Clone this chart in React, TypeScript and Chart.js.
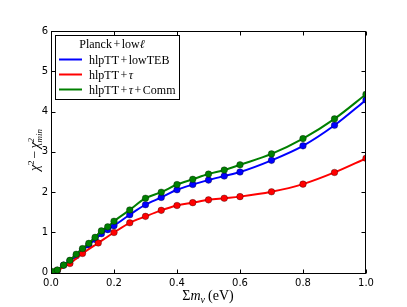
import { useEffect, useRef } from "react";
import { Chart, registerables } from "chart.js";
Chart.register(...registerables);

const massGrid = [0.005, 0.02, 0.04, 0.06, 0.08, 0.1, 0.12, 0.14, 0.16, 0.18, 0.2, 0.25, 0.3, 0.35, 0.4, 0.45, 0.5, 0.55, 0.6, 0.7, 0.8, 0.9, 1.0];
const lowTEB = [0.0, 0.05, 0.19, 0.3, 0.42, 0.56, 0.69, 0.83, 0.97, 1.07, 1.17, 1.44, 1.69, 1.87, 2.06, 2.19, 2.3, 2.4, 2.5, 2.79, 3.15, 3.66, 4.29];
const tauComm = [0.03, 0.07, 0.19, 0.31, 0.46, 0.6, 0.73, 0.88, 1.04, 1.14, 1.28, 1.56, 1.85, 2.0, 2.19, 2.32, 2.45, 2.55, 2.68, 2.95, 3.33, 3.82, 4.43];
const massTau = [0.005, 0.02, 0.06, 0.1, 0.15, 0.2, 0.25, 0.3, 0.35, 0.4, 0.45, 0.5, 0.55, 0.6, 0.7, 0.8, 0.9, 1.0];
const tauOnly = [0.0, 0.06, 0.23, 0.48, 0.74, 1.0, 1.24, 1.4, 1.55, 1.67, 1.74, 1.81, 1.85, 1.89, 2.01, 2.2, 2.49, 2.84];
const xTicks = [0, 0.2, 0.4, 0.6, 0.8, 1.0];
const yTicks = [0, 1, 2, 3, 4, 5, 6];
const seriesNames = ["hlpTT+lowTEB", "hlpTT+τ", "hlpTT+τ+Comm"];
const seriesColors = ["#0000ff", "#ff0000", "#008000"];

const SERIF = "'Liberation Serif', 'DejaVu Serif', serif";

type Run = { t?: string; f?: string; dy?: number; sup?: string; sub?: string; sf?: string; gap?: number };

function runWidth(ctx: CanvasRenderingContext2D, r: Run) {
  if (r.gap) return r.gap;
  if (r.sup !== undefined || r.sub !== undefined) {
    ctx.font = r.sf || "";
    return Math.max(ctx.measureText(r.sup || "").width, ctx.measureText(r.sub || "").width);
  }
  ctx.font = r.f || "";
  return ctx.measureText(r.t || "").width;
}

function drawRuns(ctx: CanvasRenderingContext2D, runs: Run[], x: number, y: number, align: "left" | "center") {
  let total = 0;
  for (const r of runs) total += runWidth(ctx, r);
  let cx = align === "center" ? x - total / 2 : x;
  ctx.textAlign = "left";
  ctx.textBaseline = "alphabetic";
  for (const r of runs) {
    const w = runWidth(ctx, r);
    if (r.gap) { cx += w; continue; }
    if (r.sup !== undefined || r.sub !== undefined) {
      ctx.font = r.sf || "";
      if (r.sup) ctx.fillText(r.sup, cx, y - 5);
      if (r.sub) ctx.fillText(r.sub, cx, y + 3);
    } else {
      ctx.font = r.f || "";
      ctx.fillText(r.t || "", cx, y + (r.dy || 0));
    }
    cx += w;
  }
}

const up = (s: number) => `${s}px ${SERIF}`;
const it = (s: number) => `italic ${s}px ${SERIF}`;

const legendRuns: Run[][] = [
  [{ t: "hlpTT", f: up(12) }, { gap: 1.5 }, { t: "+", f: up(12) }, { gap: 1.5 }, { t: "lowTEB", f: up(12) }],
  [{ t: "hlpTT", f: up(12) }, { gap: 1.5 }, { t: "+", f: up(12) }, { gap: 1.5 }, { t: "τ", f: it(12) }],
  [{ t: "hlpTT", f: up(12) }, { gap: 1.5 }, { t: "+", f: up(12) }, { gap: 1.5 }, { t: "τ", f: it(12) }, { gap: 1.5 }, { t: "+", f: up(12) }, { gap: 1.5 }, { t: "Comm", f: up(12) }],
];

const decor = {
  id: "decor",
  afterDraw(chart: any) {
    const { ctx, chartArea: a, scales } = chart;
    ctx.save();
    ctx.strokeStyle = "#000";
    ctx.lineWidth = 1;
    const L = Math.round(a.left) + 0.5, R = Math.round(a.right) - 0.5;
    const T = Math.round(a.top) + 0.5, B = Math.round(a.bottom) - 0.5;
    ctx.strokeRect(L, T, R - L, B - T);
    ctx.beginPath();
    for (const v of xTicks) {
      const px = Math.round(scales.x.getPixelForValue(v)) + 0.5;
      ctx.moveTo(px, B); ctx.lineTo(px, B - 4);
      ctx.moveTo(px, T); ctx.lineTo(px, T + 4);
    }
    for (const v of yTicks) {
      const py = Math.round(scales.y.getPixelForValue(v)) + 0.5;
      ctx.moveTo(L, py); ctx.lineTo(L + 4, py);
      ctx.moveTo(R, py); ctx.lineTo(R - 4, py);
    }
    ctx.stroke();

    // legend
    const lx = 55.5, ly = 35.5, lw = 124, lh = 64;
    ctx.fillStyle = "#fff";
    ctx.fillRect(lx, ly, lw, lh);
    ctx.strokeStyle = "#000";
    ctx.strokeRect(lx, ly, lw, lh);
    ctx.fillStyle = "#000";
    drawRuns(ctx, [{ t: "Planck", f: up(12) }, { gap: 1.5 }, { t: "+", f: up(12) }, { gap: 1.5 }, { t: "low", f: up(12) }, { t: "ℓ", f: it(12) }], 112, 48, "center");
    const rowsY = [59.5, 74.5, 89.5];
    for (let i = 0; i < 3; i++) {
      ctx.strokeStyle = seriesColors[i];
      ctx.lineWidth = 2;
      ctx.beginPath();
      ctx.moveTo(59, rowsY[i]);
      ctx.lineTo(82, rowsY[i]);
      ctx.stroke();
      ctx.fillStyle = "#000";
      drawRuns(ctx, legendRuns[i], 89, rowsY[i] + 4, "left");
    }

    // x label
    drawRuns(ctx, [{ t: "Σ", f: up(14) }, { t: "m", f: it(14) }, { t: "ν", f: it(10), dy: 3 }, { gap: 3 }, { t: "(eV)", f: up(14) }], 208, 300, "center");

    // y label
    ctx.save();
    ctx.translate(39, 150);
    ctx.rotate(-Math.PI / 2);
    drawRuns(ctx, [
      { t: "χ", f: it(14) }, { sup: "2", sf: up(9) }, { gap: 2 }, { t: "−", f: up(14) }, { gap: 2 },
      { t: "χ", f: it(14) }, { sup: "2", sub: "min", sf: it(9) },
    ], 0, 0, "center");
    ctx.restore();
    ctx.restore();
  },
};

export default function App() {
  const ref = useRef<HTMLCanvasElement | null>(null);
  useEffect(() => {
    document.body.style.margin = "0";
    const canvas = ref.current!;
    const mk = (xs: number[], ys: number[], i: number, order: number) => ({
      label: seriesNames[i],
      data: xs.map((x, k) => ({ x, y: ys[k] })),
      borderColor: seriesColors[i],
      backgroundColor: seriesColors[i],
      pointBackgroundColor: seriesColors[i],
      pointBorderColor: "rgba(0,0,0,0.55)",
      pointBorderWidth: 0.6,
      pointRadius: 3.3,
      borderWidth: 2,
      cubicInterpolationMode: "monotone" as const,
      order,
    });
    const chart = new Chart(canvas, {
      type: "line",
      data: {
        datasets: [
          mk(massGrid, lowTEB, 0, 2),
          mk(massTau, tauOnly, 1, 1),
          mk(massGrid, tauComm, 2, 0),
        ],
      },
      plugins: [decor],
      options: {
        responsive: false,
        animation: false,
        devicePixelRatio: 1,
        layout: { padding: { left: 0, right: 41, top: 31, bottom: 0 } },
        plugins: { legend: { display: false }, tooltip: { enabled: false } },
        scales: {
          x: {
            type: "linear",
            min: 0,
            max: 1,
            grid: { display: false, drawTicks: false },
            border: { display: false },
            afterFit: (s: any) => { s.height = 33; },
            afterBuildTicks: (s: any) => { s.ticks = xTicks.map((v) => ({ value: v })); },
            ticks: {
              padding: 3,
              color: "#000",
              font: { family: "'DejaVu Sans', sans-serif", size: 10 },
              callback: (v: any) => Number(v).toFixed(1),
              maxRotation: 0,
            },
          },
          y: {
            type: "linear",
            min: -0.03,
            max: 6,
            grid: { display: false, drawTicks: false },
            border: { display: false },
            afterFit: (s: any) => { s.width = 51; },
            afterBuildTicks: (s: any) => { s.ticks = yTicks.map((v) => ({ value: v })); },
            ticks: {
              padding: 3,
              color: "#000",
              font: { family: "'DejaVu Sans', sans-serif", size: 10 },
              callback: (v: any) => String(v),
            },
          },
        },
      },
    });
    return () => chart.destroy();
  }, []);
  return <canvas ref={ref} width={407} height={307} style={{ display: "block" }} />;
}
